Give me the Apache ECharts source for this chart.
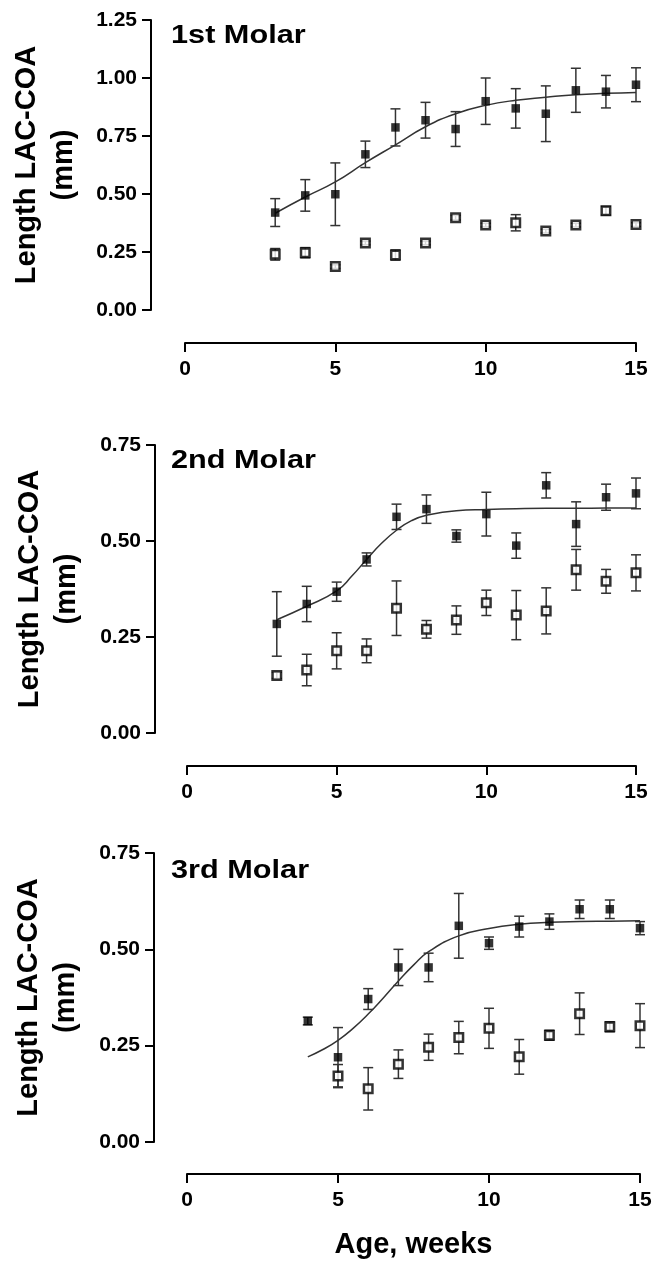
<!DOCTYPE html>
<html>
<head>
<meta charset="utf-8">
<script src="https://cdn.jsdelivr.net/npm/echarts@6/dist/echarts.min.js"></script>
<style>
html,body{margin:0;padding:0;background:#fff;}
#chart{width:654px;height:1266px;}
</style>
</head>
<body>
<div id="chart"></div>
<script>
// ---------- data ----------
const panelTitles = ['1st Molar', '2nd Molar', '3rd Molar'];
const yTitle = 'Length LAC-COA\n(mm)';
const xTitle = 'Age, weeks';
const xTicks = [0, 5, 10, 15];

const weeks = [3, 4, 5, 6, 7, 8, 9, 10, 11, 12, 13, 14, 15];
const weeks3Filled = [4, 5, 6, 7, 8, 9, 10, 11, 12, 13, 14, 15];
const weeks3Open = [5, 6, 7, 8, 9, 10, 11, 12, 13, 14, 15];

// 1st molar
const m1Filled    = [0.420, 0.494, 0.499, 0.671, 0.787, 0.818, 0.780, 0.900, 0.869, 0.846, 0.947, 0.941, 0.971];
const m1FilledErr = [0.060, 0.068, 0.135, 0.057, 0.080, 0.077, 0.075, 0.100, 0.085, 0.120, 0.095, 0.070, 0.073];
const m1Open      = [0.240, 0.247, 0.187, 0.289, 0.237, 0.289, 0.398, 0.366, 0.376, 0.340, 0.366, 0.428, 0.368];
const m1OpenErr   = [0.025, 0.022, 0.008, 0.008, 0.022, 0.008, 0.010, 0.008, 0.035, 0.008, 0.008, 0.018, 0.008];
const m1CurveX    = [3, 4, 5, 6, 7, 8, 9, 10, 11, 12, 13, 14, 15];
const m1CurveY    = [0.417, 0.487, 0.552, 0.635, 0.712, 0.790, 0.846, 0.882, 0.904, 0.917, 0.928, 0.934, 0.938];

// 2nd molar
const m2Filled    = [0.284, 0.336, 0.368, 0.452, 0.563, 0.583, 0.513, 0.570, 0.488, 0.645, 0.544, 0.614, 0.624];
const m2FilledErr = [0.084, 0.046, 0.025, 0.017, 0.033, 0.037, 0.016, 0.057, 0.033, 0.033, 0.058, 0.034, 0.040];
const m2Open      = [0.150, 0.164, 0.214, 0.214, 0.325, 0.270, 0.294, 0.339, 0.307, 0.318, 0.425, 0.395, 0.417];
const m2OpenErr   = [0.008, 0.041, 0.047, 0.031, 0.071, 0.023, 0.037, 0.033, 0.064, 0.060, 0.053, 0.031, 0.047];
const m2CurveX    = [3, 4, 5, 5.5, 6, 6.5, 7, 7.5, 8, 9, 10, 11, 12, 13, 14, 15];
const m2CurveY    = [0.295, 0.330, 0.370, 0.408, 0.452, 0.494, 0.528, 0.553, 0.567, 0.579, 0.582, 0.584, 0.585, 0.585, 0.586, 0.586];

// 3rd molar
const m3Filled    = [0.314, 0.220, 0.371, 0.453, 0.453, 0.561, 0.516, 0.559, 0.572, 0.604, 0.604, 0.555];
const m3FilledErr = [0.010, 0.077, 0.027, 0.047, 0.037, 0.084, 0.016, 0.027, 0.020, 0.024, 0.024, 0.017];
const m3Open      = [0.171, 0.138, 0.202, 0.246, 0.271, 0.295, 0.221, 0.277, 0.333, 0.299, 0.302];
const m3OpenErr   = [0.030, 0.055, 0.037, 0.034, 0.042, 0.052, 0.045, 0.013, 0.054, 0.013, 0.057];
const m3CurveX    = [4, 4.5, 5, 5.5, 6, 6.5, 7, 7.5, 8, 9, 10, 11, 12, 13, 14, 15];
const m3CurveY    = [0.221, 0.240, 0.264, 0.295, 0.332, 0.374, 0.418, 0.459, 0.494, 0.535, 0.554, 0.565, 0.570, 0.572, 0.573, 0.574];

// ---------- build ----------
const zip = (xs, ys, es) => xs.map((x, i) => es ? [x, ys[i], es[i]] : [x, ys[i]]);

const panels = [
  { fx: weeks, f: m1Filled, fe: m1FilledErr, ox: weeks, o: m1Open, oe: m1OpenErr, cx: m1CurveX, cy: m1CurveY,
    grid: { left: 185, top: 20, width: 451, height: 290 }, ymax: 1.25, yOff: 34, xOff: 33, titleTop: 23, nameGap: 69 },
  { fx: weeks, f: m2Filled, fe: m2FilledErr, ox: weeks, o: m2Open, oe: m2OpenErr, cx: m2CurveX, cy: m2CurveY,
    grid: { left: 187, top: 445, width: 449, height: 288 }, ymax: 0.75, yOff: 32, xOff: 33, titleTop: 448, nameGap: 70 },
  { fx: weeks3Filled, f: m3Filled, fe: m3FilledErr, ox: weeks3Open, o: m3Open, oe: m3OpenErr, cx: m3CurveX, cy: m3CurveY,
    grid: { left: 187, top: 853, width: 453, height: 289 }, ymax: 0.75, yOff: 33, xOff: 32, titleTop: 858, nameGap: 70 }
];

const FONT = '"Liberation Sans", Arial, Helvetica, sans-serif';

function errRender(params, api) {
  const x = api.value(0), y = api.value(1), e = api.value(2);
  const top = api.coord([x, y + e]);
  const bot = api.coord([x, y - e]);
  const hw = 5;
  const style = { stroke: '#333', lineWidth: 1.5, fill: null };
  return {
    type: 'group',
    children: [
      { type: 'line', shape: { x1: top[0], y1: top[1], x2: bot[0], y2: bot[1] }, style },
      { type: 'line', shape: { x1: top[0] - hw, y1: top[1], x2: top[0] + hw, y2: top[1] }, style },
      { type: 'line', shape: { x1: bot[0] - hw, y1: bot[1], x2: bot[0] + hw, y2: bot[1] }, style }
    ]
  };
}

const option = {
  animation: false,
  backgroundColor: '#fff',
  graphic: [], grid: [], xAxis: [], yAxis: [], series: []
};

panels.forEach((p, i) => {
  option.graphic.push({
    type: 'text', x: 171, y: p.titleTop, scaleX: 1.18, scaleY: 1, silent: true,
    style: { text: panelTitles[i], font: 'bold 26px ' + FONT, fill: '#000', textAlign: 'left', textVerticalAlign: 'top' }
  });
  option.grid.push(Object.assign({ containLabel: false, outerBoundsMode: 'none' }, p.grid));
  const axisLine = { show: true, onZero: false, lineStyle: { color: '#000', width: 2 } };
  const axisTick = { show: true, length: 9, lineStyle: { color: '#000', width: 2 } };
  option.xAxis.push({
    gridIndex: i, type: 'value', min: xTicks[0], max: xTicks[xTicks.length - 1], interval: 5,
    offset: p.xOff, axisLine, axisTick, splitLine: { show: false },
    axisLabel: { margin: 16, fontFamily: FONT, fontWeight: 'bold', fontSize: 21, color: '#000' },
    name: i === 2 ? xTitle : '', nameLocation: 'middle', nameGap: 56,
    nameTextStyle: { fontFamily: FONT, fontWeight: 'bold', fontSize: 29, color: '#000' }
  });
  option.yAxis.push({
    gridIndex: i, type: 'value', min: 0, max: p.ymax, interval: 0.25,
    offset: p.yOff, axisLine, axisTick, splitLine: { show: false },
    axisLabel: { margin: 14, fontFamily: FONT, fontWeight: 'bold', fontSize: 21, color: '#000',
      formatter: v => v.toFixed(2) },
    name: yTitle, nameLocation: 'middle', nameGap: p.nameGap, nameRotate: 90,
    nameTextStyle: { fontFamily: FONT, fontWeight: 'bold', fontSize: 29, lineHeight: 37, color: '#000', align: 'center' }
  });
  option.series.push({
    type: 'line', xAxisIndex: i, yAxisIndex: i, data: zip(p.cx, p.cy),
    smooth: 0.5, showSymbol: false, symbol: 'none',
    lineStyle: { color: '#333', width: 1.5 }, z: 2, silent: true
  });
  option.series.push({
    type: 'custom', xAxisIndex: i, yAxisIndex: i, data: zip(p.ox, p.o, p.oe),
    renderItem: errRender, encode: { x: 0, y: 1 }, z: 3, silent: true
  });
  option.series.push({
    type: 'custom', xAxisIndex: i, yAxisIndex: i, data: zip(p.fx, p.f, p.fe),
    renderItem: errRender, encode: { x: 0, y: 1 }, z: 3, silent: true
  });
  option.series.push({
    type: 'scatter', xAxisIndex: i, yAxisIndex: i, data: zip(p.ox, p.o),
    symbol: 'rect', symbolSize: 8.5,
    itemStyle: { color: '#fff', borderColor: '#000', borderWidth: 2.5 }, z: 4, silent: true
  });
  option.series.push({
    type: 'scatter', xAxisIndex: i, yAxisIndex: i, data: zip(p.fx, p.f),
    symbol: 'rect', symbolSize: 8.5,
    itemStyle: { color: '#000' }, z: 5, silent: true
  });
});

const chart = echarts.init(document.getElementById('chart'), null, { renderer: 'canvas' });
chart.setOption(option);
</script>
</body>
</html>
